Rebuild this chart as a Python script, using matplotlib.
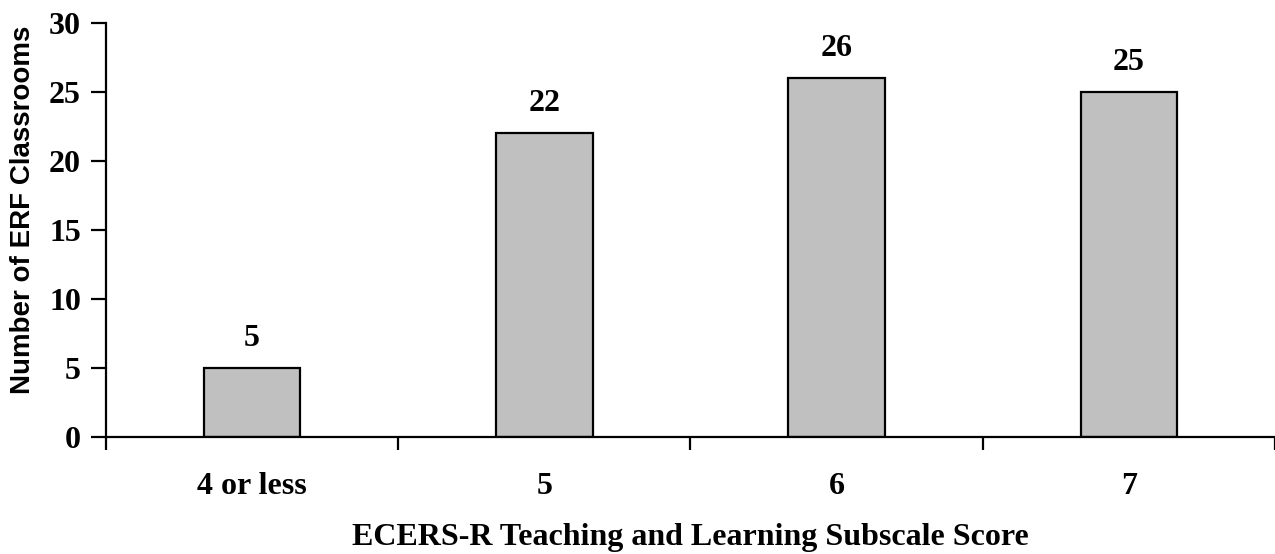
import numpy as np
import matplotlib.pyplot as plt

# Data
categories = ['4 or less', '5', '6', '7']
counts = [5, 22, 26, 25]

serif = ['Liberation Serif', 'DejaVu Serif']
sans = ['Liberation Sans', 'DejaVu Sans']

fig = plt.figure(figsize=(12.75, 5.54), dpi=100)
ax = fig.add_axes([0.0831, 0.2112, 0.9169, 0.7473])

x = np.arange(len(categories))
bars = ax.bar(x, counts, width=0.33, color='#c0c0c0',
              edgecolor='black', linewidth=1.6)

# value labels over bars
for xi, v in zip(x, counts):
    ax.annotate(str(v), (xi, v), xytext=(0, 16), textcoords='offset points',
                ha='center', va='baseline', fontsize=23, fontweight='bold',
                family=serif)

ax.set_xlim(-0.5, len(categories) - 0.5)
ax.set_ylim(0, 30)
ax.set_yticks(range(0, 31, 5))

# tick marks at category boundaries, labels at centers
ax.set_xticks(np.arange(-0.5, len(categories) + 0.5, 1.0))
ax.set_xticklabels([])
ax.set_xticks(x, minor=True)
ax.set_xticklabels(categories, minor=True)
ax.tick_params(axis='x', which='major', direction='out', length=9, width=1.6)
ax.tick_params(axis='x', which='minor', length=0, pad=25)
ax.tick_params(axis='y', direction='out', length=11, width=1.6, pad=7)

for lab in ax.get_xticklabels(minor=True) + ax.get_yticklabels():
    lab.set_fontfamily(serif)
    lab.set_fontweight('bold')
    lab.set_fontsize(23)

for side in ['top', 'right']:
    ax.spines[side].set_visible(False)
for side in ['left', 'bottom']:
    ax.spines[side].set_linewidth(1.6)

fig.text(0.0182, 0.621, 'Number of ERF Classrooms', rotation=90,
         ha='center', va='center', family=sans, fontweight='bold',
         fontsize=20)
fig.text(0.5416, 0.016, 'ECERS-R Teaching and Learning Subscale Score',
         ha='center', va='baseline', family=serif, fontweight='bold',
         fontsize=23)

fig.savefig('out.png', dpi=100)
